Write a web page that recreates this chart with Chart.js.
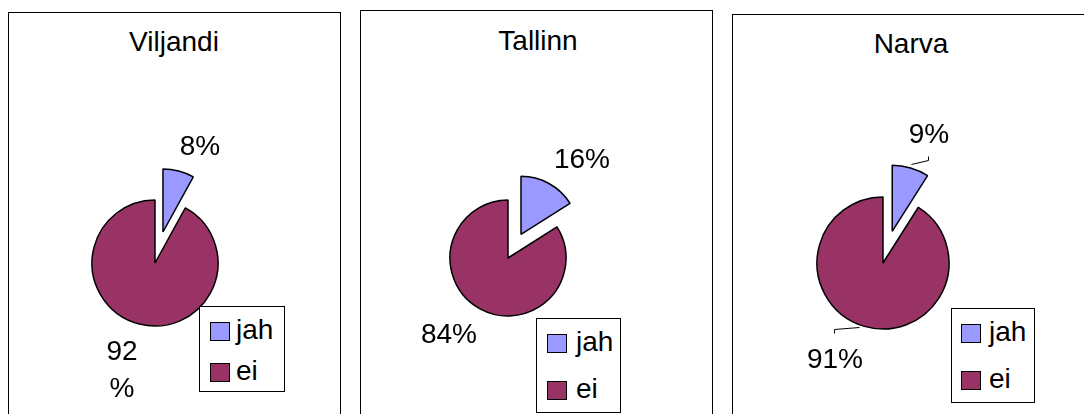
<!DOCTYPE html>
<html>
<head>
<meta charset="utf-8">
<script src="https://cdn.jsdelivr.net/npm/chart.js@4.4.1/dist/chart.umd.min.js"></script>
<style>
  html, body { margin:0; padding:0; background:#fff; width:1084px; height:414px; overflow:hidden; }
  body { position:relative; font-family:"Liberation Sans", Arial, sans-serif; }
  .panel { position:absolute; border:1px solid #000; box-sizing:border-box; background:#fff; }
  .title { position:absolute; font-size:28px; line-height:1; color:#000; white-space:nowrap; transform:translateX(-50%); }
  canvas.pie { position:absolute; z-index:2; }
  .legend { position:absolute; z-index:3; background:#fff; border:1px solid #000; box-sizing:border-box; }
  .legend .sw { position:absolute; box-sizing:border-box; border:1.5px solid #000; }
  .legend .lt { position:absolute; font-size:28px; line-height:1; color:#000; white-space:nowrap; }
</style>
</head>
<body>
<script>
// ---- data ----
const cities = ['Viljandi', 'Tallinn', 'Narva'];
const categories = ['jah', 'ei'];
const jahValues = [8, 16, 9];
const eiValues = [92, 84, 91];
const colors = ['#9999FF', '#993366'];

// ---- layout / style (not data) ----
const layouts = [
  { panel:[8,12,333,430], title:[174,28], center:[155,263], radius:63, explode:32,
    labels:[{dx:45,dy:-108,wrap:false},{dx:-33,dy:97,wrap:true,lineH:37}],
    legend:{x:199,y:306,w:86,h:86,sq:[10,15],rowH:41,tx:36}, leaders:[] },
  { panel:[360,10,353,430], title:[538,27], center:[508,258], radius:58, explode:27,
    labels:[{dx:74,dy:-90,wrap:false},{dx:-59,dy:85,wrap:false}],
    legend:{x:536,y:318,w:85,h:95,sq:[10,15],rowH:47,tx:39}, leaders:[] },
  { panel:[732,14,400,430], title:[911,30], center:[883,263], radius:66, explode:33,
    labels:[{dx:46,dy:-120,wrap:false},{dx:-48,dy:105,wrap:false}],
    legend:{x:951,y:308,w:84,h:95,sq:[9,15],rowH:47,tx:37},
    leaders:[[[45,-107],[45,-103],[28,-99]], [[-49,70],[-49,66],[-24,64]]] }
];

const CAN = 340;

// Draw the library's arc elements, pulling exploded slices out along their mid-angle
const explodePlugin = {
  id: 'explode',
  beforeDatasetDraw(chart, args, opts) {
    const ctx = chart.ctx;
    args.meta.data.forEach((arc, i) => {
      const px = (opts.px || [])[i] || 0;
      const h = (arc.startAngle + arc.endAngle) / 2;
      ctx.save();
      ctx.translate(Math.cos(h) * px, Math.sin(h) * px);
      arc.draw(ctx, chart.chartArea);
      ctx.restore();
    });
    return false;
  }
};

const labelPlugin = {
  id: 'pctLabels',
  afterDatasetsDraw(chart, args, opts) {
    const ctx = chart.ctx;
    const arc = chart.getDatasetMeta(0).data[0];
    const cx = arc.x, cy = arc.y;
    const vals = chart.data.datasets[0].data;
    ctx.save();
    ctx.strokeStyle = '#000';
    ctx.lineWidth = 1;
    (opts.leaders || []).forEach(pts => {
      ctx.beginPath();
      pts.forEach((p, k) => { const X = cx + p[0] + 0.5, Y = cy + p[1] + 0.5; k ? ctx.lineTo(X, Y) : ctx.moveTo(X, Y); });
      ctx.stroke();
    });
    ctx.font = '28px "Liberation Sans", Arial, sans-serif';
    ctx.fillStyle = '#000';
    ctx.textAlign = 'center';
    ctx.textBaseline = 'alphabetic';
    opts.labels.forEach((lab, i) => {
      const lines = lab.wrap ? [String(vals[i]), '%'] : [vals[i] + '%'];
      lines.forEach((t, k) => ctx.fillText(t, cx + lab.dx, cy + lab.dy + k * (lab.lineH || 0)));
    });
    ctx.restore();
  }
};

cities.forEach((city, i) => {
  const L = layouts[i];
  const panel = document.createElement('div');
  panel.className = 'panel';
  Object.assign(panel.style, { left: L.panel[0] + 'px', top: L.panel[1] + 'px', width: L.panel[2] + 'px', height: L.panel[3] + 'px' });
  document.body.appendChild(panel);

  const title = document.createElement('div');
  title.className = 'title';
  title.textContent = city;
  Object.assign(title.style, { left: L.title[0] + 'px', top: L.title[1] + 'px' });
  document.body.appendChild(title);

  const cv = document.createElement('canvas');
  cv.className = 'pie';
  cv.width = CAN; cv.height = CAN;
  Object.assign(cv.style, { left: (L.center[0] - CAN / 2) + 'px', top: (L.center[1] - CAN / 2) + 'px', width: CAN + 'px', height: CAN + 'px' });
  document.body.appendChild(cv);

  new Chart(cv, {
    type: 'pie',
    data: {
      labels: categories,
      datasets: [{
        data: [jahValues[i], eiValues[i]],
        backgroundColor: colors,
        borderColor: '#000',
        borderWidth: 1.5,
        radius: L.radius
      }]
    },
    options: {
      responsive: false,
      animation: false,
      layout: { padding: 0 },
      plugins: {
        legend: { display: false },
        title: { display: false },
        tooltip: { enabled: false },
        explode: { px: [L.explode, 0] },
        pctLabels: { labels: L.labels, leaders: L.leaders }
      }
    },
    plugins: [explodePlugin, labelPlugin]
  });

  const lg = document.createElement('div');
  lg.className = 'legend';
  const G = L.legend;
  Object.assign(lg.style, { left: G.x + 'px', top: G.y + 'px', width: G.w + 'px', height: G.h + 'px' });
  categories.forEach((c, k) => {
    const sw = document.createElement('div');
    sw.className = 'sw';
    Object.assign(sw.style, { left: G.sq[0] + 'px', top: (G.sq[1] + k * G.rowH) + 'px', width: '20px', height: '19px', background: colors[k] });
    lg.appendChild(sw);
    const t = document.createElement('div');
    t.className = 'lt';
    t.textContent = c;
    Object.assign(t.style, { left: G.tx + 'px', top: (G.sq[1] - 6 + k * G.rowH) + 'px' });
    lg.appendChild(t);
  });
  document.body.appendChild(lg);
});
</script>
</body>
</html>
